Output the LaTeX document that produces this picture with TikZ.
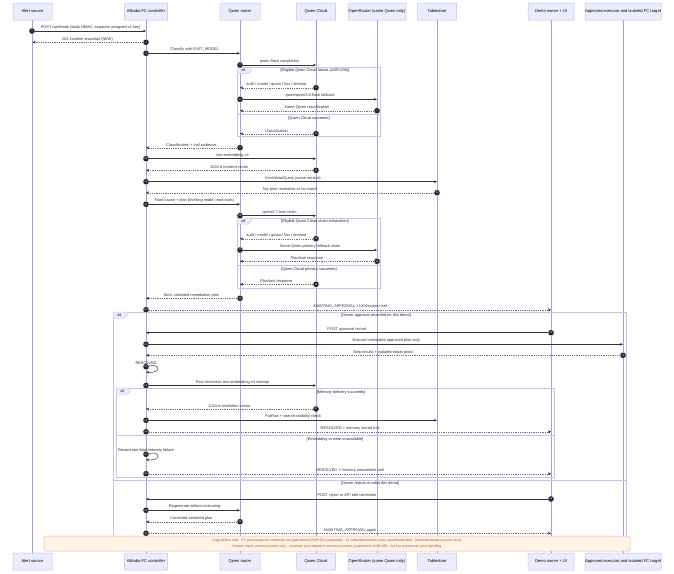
\documentclass[tikz,border=0pt]{standalone}
\usepackage{fontspec}
\setmainfont{Liberation Sans}
\usetikzlibrary{arrows.meta}
\definecolor{actorfill}{HTML}{ECECFF}
\definecolor{actorline}{HTML}{C3BCEF}
\definecolor{lifeline}{HTML}{A99DE6}
\definecolor{altline}{HTML}{C8C2F0}
\definecolor{msgline}{HTML}{333333}
\definecolor{notefill}{HTML}{FFF3E8}
\definecolor{noteline}{HTML}{F2B48C}
\definecolor{notetext}{HTML}{B5471E}

\tikzset{
  actor/.style={draw=actorline, fill=actorfill, line width=0.5pt, rounded corners=0.6pt,
    minimum height=17pt, inner sep=0pt, font=\fontsize{4.1}{4.5}\selectfont},
  life/.style={draw=lifeline, line width=0.6pt},
  altbox/.style={draw=altline, line width=0.5pt},
  num/.style={circle, fill=black!85, draw=white, line width=0.3pt, text=white,
    inner sep=0pt, minimum size=6.2pt, font=\fontsize{2.4}{2.4}\selectfont},
  msg/.style={draw=msgline, line width=0.45pt, -{Stealth[length=3pt,width=2.6pt]}},
  reply/.style={draw=msgline!70, line width=0.35pt, dash pattern=on 0.9pt off 0.9pt,
    -{Stealth[length=3pt,width=2.6pt,color=msgline,line width=0.1pt]}},
  lbl/.style={midway, above=1.3pt, inner sep=0pt, text=msgline, font=\fontsize{3.9}{4.3}\selectfont},
  cond/.style={inner sep=0pt, text=black!85, font=\fontsize{3.9}{4.3}\selectfont}
}

\begin{document}
\begin{tikzpicture}[x=1pt, y=-1pt]
% incident sequence: alert -> controller -> Qwen -> memory -> owner approval
\useasboundingbox (0,0) rectangle (674,573);
\fill[white] (0,0) rectangle (674,573);

% participants, top
\node[actor, minimum width=39pt] (alert) at (32.5,11.5) {Alert source};
\node[actor, minimum width=43pt] (fc) at (146,11.5) {Alibaba FC controller};
\node[actor, minimum width=40pt] (router) at (240,11.5) {Qwen router};
\node[actor, minimum width=39pt] (cloud) at (316,11.5) {Qwen Cloud};
\node[actor, minimum width=58pt] (openr) at (377,11.5) {OpenRouter (same Qwen only)};
\node[actor, minimum width=39pt] (store) at (437,11.5) {Tablestore};
\node[actor, minimum width=46pt] (owner) at (551,11.5) {Demo owner + UI};
\node[actor, minimum width=76pt] (exec) at (623,11.5) {Approved executor and isolated FC target};

% participants, bottom
\node[actor, minimum width=39pt] (alertb) at (32.5,561.5) {Alert source};
\node[actor, minimum width=43pt] (fcb) at (146,561.5) {Alibaba FC controller};
\node[actor, minimum width=40pt] (routerb) at (240,561.5) {Qwen router};
\node[actor, minimum width=39pt] (cloudb) at (316,561.5) {Qwen Cloud};
\node[actor, minimum width=58pt] (openrb) at (377,561.5) {OpenRouter (same Qwen only)};
\node[actor, minimum width=39pt] (storeb) at (437,561.5) {Tablestore};
\node[actor, minimum width=46pt] (ownerb) at (551,561.5) {Demo owner + UI};
\node[actor, minimum width=76pt] (execb) at (623,561.5) {Approved executor and isolated FC target};

% lifelines
\draw[life] (alert) -- (alertb);
\draw[life] (fc) -- (fcb);
\draw[life] (router) -- (routerb);
\draw[life] (cloud) -- (cloudb);
\draw[life] (openr) -- (openrb);
\draw[life] (store) -- (storeb);
\draw[life] (owner) -- (ownerb);
\draw[life] (exec) -- (execb);

% alt: classification fallback
\draw[altbox] (237,67.5) rectangle (380,136.5);
\draw[altbox] (237,114) -- (380,114);
\draw[altbox, fill=actorfill] (237,67.5) -- (251,67.5) -- (251,71) -- (248.5,73.5) -- (237,73.5) -- cycle;
\node[cond] (tag1) at (243.5,70.6) {alt};
\node[cond] (cond1a) at (315,70.8) {[Eligible Qwen Cloud failure (ADR-006)]};
\node[cond] (cond1b) at (309,118) {[Qwen Cloud succeeds]};

% alt: plan fallback
\draw[altbox] (237,218) rectangle (380,288.5);
\draw[altbox] (237,265) -- (380,265);
\draw[altbox, fill=actorfill] (237,218) -- (251,218) -- (251,221.5) -- (248.5,224) -- (237,224) -- cycle;
\node[cond] (tag2) at (243.5,221.1) {alt};
\node[cond] (cond2a) at (315,221.3) {[Eligible Qwen Cloud chain exhaustion]};
\node[cond] (cond2b) at (309,269) {[Qwen Cloud primary succeeds]};

% alt: owner decision
\draw[altbox] (113,312) rectangle (626,540);
\draw[altbox] (113,480) -- (626,480);
\draw[altbox, fill=actorfill] (113,312) -- (127,312) -- (127,315.5) -- (124.5,318) -- (113,318) -- cycle;
\node[cond] (tag3) at (119.5,315.1) {alt};
\node[cond] (cond3a) at (376,315.8) {[Owner approval recorded for this demo]};
\node[cond] (cond3b) at (370,483.5) {[Owner rejects or edits this demo]};

% alt: memory delivery
\draw[altbox] (116,388) rectangle (554,477);
\draw[altbox] (116,435) -- (554,435);
\draw[altbox, fill=actorfill] (116,388) -- (130,388) -- (130,391.5) -- (127.5,394) -- (116,394) -- cycle;
\node[cond] (tag4) at (122.5,391.1) {alt};
\node[cond] (cond4a) at (341,392.2) {[Memory delivery succeeds]};
\node[cond] (cond4b) at (335,439) {[Embedding or write unavailable]};

% numbered messages
\node[num] (n1) at (32,31) {1};
\draw[msg] (n1) -- (n1 -| fc) node[lbl] {POST /webhook (body HMAC; separate unsigned v1 key)};
\node[num] (n2) at (146,42.3) {2};
\draw[reply] (n2) -- (n2 -| alert) node[lbl] {202 incident snapshot (NEW)};
\node[num] (n3) at (146,53.3) {3};
\draw[msg] (n3) -- (n3 -| router) node[lbl] {Classify with FAST\_MODEL};
\node[num] (n4) at (240,65) {4};
\draw[msg] (n4) -- (n4 -| cloud) node[lbl] {qwen-flash completion};
\node[num] (n5) at (316,87.7) {5};
\draw[reply] (n5) -- (n5 -| router) node[lbl] {auth / model / quota / 5xx / timeout};
\node[num] (n6) at (240,99.3) {6};
\draw[msg] (n6) -- (n6 -| openr) node[lbl] {qwen/qwen3.6-flash fallback};
\node[num] (n7) at (377,110.7) {7};
\draw[reply] (n7) -- (n7 -| router) node[lbl] {Same-Qwen classification};
\node[num] (n8) at (316,133.7) {8};
\draw[reply] (n8) -- (n8 -| router) node[lbl] {Classification};
\node[num] (n9) at (240,147.7) {9};
\draw[reply] (n9) -- (n9 -| fc) node[lbl] {Classification + trail evidence};
\node[num] (n10) at (146,158.7) {10};
\draw[msg] (n10) -- (n10 -| cloud) node[lbl] {text-embedding-v4};
\node[num] (n11) at (316,170.3) {11};
\draw[reply] (n11) -- (n11 -| fc) node[lbl] {1024-d incident vector};
\node[num] (n12) at (146,181.7) {12};
\draw[msg] (n12) -- (n12 -| store) node[lbl] {KnnVectorQuery (same service)};
\node[num] (n13) at (437,192.7) {13};
\draw[reply] (n13) -- (n13 -| fc) node[lbl] {Top prior resolution or no match};
\node[num] (n14) at (146,204.3) {14};
\draw[msg] (n14) -- (n14 -| router) node[lbl] {Root-cause + plan (thinking mode, read tools)};
\node[num] (n15) at (240,215.7) {15};
\draw[msg] (n15) -- (n15 -| cloud) node[lbl] {qwen3.7-max chain};
\node[num] (n16) at (316,238.7) {16};
\draw[reply] (n16) -- (n16 -| router) node[lbl] {auth / model / quota / 5xx / timeout};
\node[num] (n17) at (240,250) {17};
\draw[msg] (n17) -- (n17 -| openr) node[lbl] {Same-Qwen primary fallback chain};
\node[num] (n18) at (377,261.3) {18};
\draw[reply] (n18) -- (n18 -| router) node[lbl] {Plan/tool response};
\node[num] (n19) at (316,284.3) {19};
\draw[reply] (n19) -- (n19 -| router) node[lbl] {Plan/tool response};
\node[num] (n20) at (240,298.3) {20};
\draw[reply] (n20) -- (n20 -| fc) node[lbl] {Strict validated remediation plan};
\node[num] (n21) at (146,309.7) {21};
\draw[reply] (n21) -- (n21 -| owner) node[lbl] {AWAITING\_APPROVAL + full decision trail};
\node[num] (n22) at (551,332.7) {22};
\draw[msg] (n22) -- (n22 -| fc) node[lbl] {POST approval record};
\node[num] (n23) at (146,344.3) {23};
\draw[msg] (n23) -- (n23 -| exec) node[lbl] {Execute immutable approved plan only};
\node[num] (n24) at (623,355.3) {24};
\draw[reply] (n24) -- (n24 -| fc) node[lbl] {Step results + isolated-target proof};
\node[num] (n25) at (146,366.7) {25};
\coordinate (r25) at (146,372);
\draw[msg] (n25) .. controls (161,363) and (161,374) .. (r25);
\node[cond] (t25) at (146,362.7) {RESOLVED};
\node[num] (n26) at (146,385.5) {26};
\draw[msg] (n26) -- (n26 -| cloud) node[lbl] {Post-resolution text-embedding-v4 attempt};
\node[num] (n27) at (316,409) {27};
\draw[reply] (n27) -- (n27 -| fc) node[lbl] {1024-d resolution vector};
\node[num] (n28) at (146,420.3) {28};
\draw[msg] (n28) -- (n28 -| store) node[lbl] {PutRow + search-visibility check};
\node[num] (n29) at (146,431.7) {29};
\draw[reply] (n29) -- (n29 -| owner) node[lbl] {RESOLVED + memory stored trail};
\node[num] (n30) at (146,454.3) {30};
\coordinate (r30) at (146,459.5);
\draw[msg] (n30) .. controls (161,450.6) and (161,461.5) .. (r30);
\node[cond] (t30) at (146,450.7) {Record non-fatal memory failure};
\node[num] (n31) at (146,473.7) {31};
\draw[reply] (n31) -- (n31 -| owner) node[lbl] {RESOLVED + memory unavailable trail};
\node[num] (n32) at (551,499) {32};
\draw[msg] (n32) -- (n32 -| fc) node[lbl] {POST reject or API edit correction};
\node[num] (n33) at (146,510.3) {33};
\draw[msg] (n33) -- (n33 -| router) node[lbl] {Regenerate without executing};
\node[num] (n34) at (240,521.7) {34};
\draw[reply] (n34) -- (n34 -| fc) node[lbl] {Corrected validated plan};
\node[num] (n35) at (146,533.3) {35};
\draw[reply] (n35) -- (n35 -| owner) node[lbl] {AWAITING\_APPROVAL again};

% footnote
\node[draw=noteline, fill=notefill, line width=0.5pt, rounded corners=1.5pt,
  minimum width=586pt, minimum height=15pt, inner sep=0pt, align=center,
  text=notetext, font=\fontsize{3.5}{5.4}\selectfont] (note) at (337,543.5)
  {Logical flow only · FC post-response continuity not guaranteed (ADR-024 proposed) · v1 caller/idempotency key unauthenticated · incidents/dedup process-local\\
   Known-result success branch only · uncertain post-dispatch recovery remains proposed in ADR-026 · A4 live write/recall proof pending};
\end{tikzpicture}
\end{document}
